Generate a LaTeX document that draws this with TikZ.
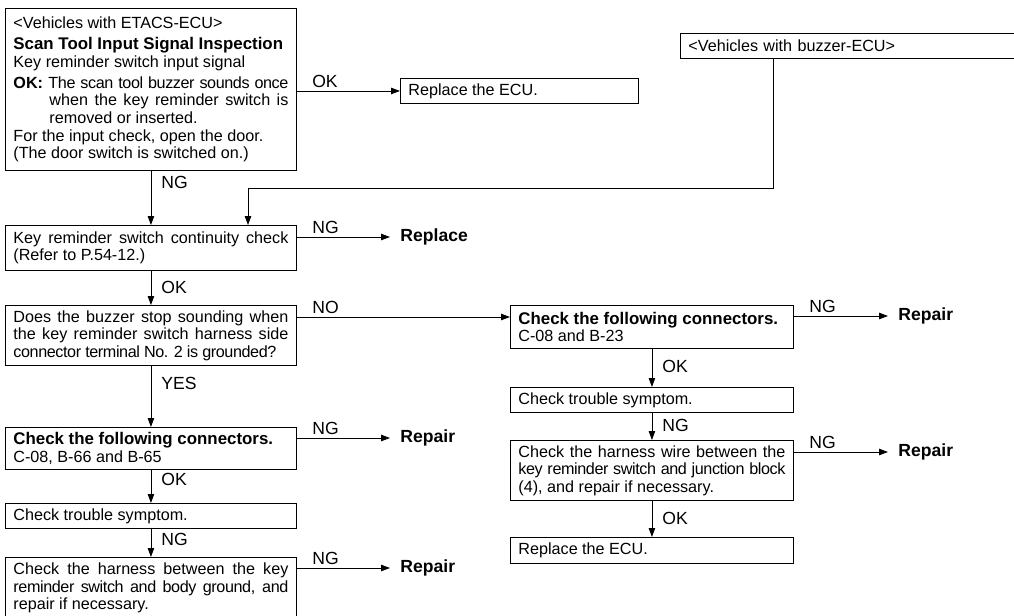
\documentclass[tikz,border=0pt]{standalone}
\usepackage{fontspec}
\setmainfont{Liberation Sans}
\usepackage{tikz}
\usetikzlibrary{arrows.meta}
\newcommand\tightline[1]{{\addfontfeatures{LetterSpace=-2.5}#1}}
\newcommand\headline[1]{\textbf{\fontsize{9.6}{10}\selectfont #1}}

\begin{document}
\begin{tikzpicture}[>={Triangle[length=5pt,width=3.6pt]},line width=0.5pt,
  box/.style={draw,rectangle,anchor=north west,align=justify,text width=5.50cm,
    inner xsep=0.16cm,inner ysep=0.1cm,font=\fontsize{9.2}{10}\selectfont},
  rbox/.style={box,text width=5.34cm},
  lbl/.style={inner sep=0,font=\fontsize{10}{11}\selectfont},
  hl/.style={lbl,pos=0,anchor=south west,xshift=0.3cm,yshift=0.05cm},
  vl/.style={lbl,anchor=west,xshift=0.2cm},
  res/.style={anchor=west,inner xsep=0.2cm,font=\bfseries\fontsize{10}{11}\selectfont}]
\useasboundingbox (0,0) rectangle (20.28,-12.32);

\node[box,minimum height=3.24cm] (etacs) at (0.10,-0.16) {<Vehicles with ETACS-ECU>\par\vspace{2pt}
  \headline{Scan Tool Input Signal Inspection}\par
  Key reminder switch input signal\par\vspace{2pt}
  \hangindent=0.72cm\hangafter=1\textbf{OK:} \tightline{The scan tool buzzer sounds once}\linebreak
  when the key reminder switch is\linebreak removed or inserted.\par
  For the input check, open the door.\par
  (The door switch is switched on.)};
\node[box,text width=4.44cm,minimum height=0.48cm] (ecuA) at (8.00,-1.56) {Replace the ECU.};
\node[box,align=left,text width=6.40cm,minimum height=0.50cm] (buzzer) at (13.60,-0.66) {<Vehicles with buzzer-ECU>};

\node[box,minimum height=0.90cm] (contin) at (0.10,-4.50) {Key reminder switch continuity check\linebreak (Refer to P.54-12.)};
\node[box,minimum height=1.20cm] (ground) at (0.10,-6.10) {Does the buzzer stop sounding when\linebreak
  the key reminder switch harness side\linebreak \tightline{connector terminal No. 2 is grounded?}};
\node[box,minimum height=0.82cm] (connA) at (0.10,-8.54) {\headline{Check the following connectors.}\par C-08, B-66 and B-65};
\node[box,minimum height=0.44cm] (sympA) at (0.10,-10.06) {Check trouble symptom.};
\node[box,minimum height=1.22cm] (harnA) at (0.10,-11.14) {Check the harness between the key\linebreak
  \tightline{reminder switch and body ground, and}\linebreak repair if necessary.};

\node[rbox,minimum height=0.86cm] (connB) at (10.20,-6.10) {\headline{Check the following connectors.}\par C-08 and B-23};
\node[rbox,minimum height=0.44cm] (sympB) at (10.20,-7.74) {Check trouble symptom.};
\node[rbox,minimum height=1.20cm] (wireB) at (10.20,-8.80) {Check the harness wire between the\linebreak
  \tightline{key reminder switch and junction block}\linebreak (4), and repair if necessary.};
\node[rbox,minimum height=0.52cm] (ecuB) at (10.20,-10.74) {Replace the ECU.};

\node[res] (replace) at (7.80,-4.74) {Replace};
\node[res] (repairA) at (7.80,-8.76) {Repair};
\node[res] (repairB) at (7.80,-11.36) {Repair};
\node[res] (repairC) at (17.76,-6.32) {Repair};
\node[res] (repairD) at (17.76,-9.04) {Repair};

\coordinate (turnA) at (15.46,-3.76);
\coordinate (turnB) at (4.96,-3.76);

\draw[->] (etacs.east |- ecuA.west) -- node[hl]{OK} (ecuA.west);
\draw[->] (etacs.south) -- node[vl,pos=0.22]{NG} (contin.north);
\draw[->] (buzzer.south -| turnA) -- (turnA) -- (turnB) -- (contin.north -| turnB);
\draw[->] (contin.east |- replace.west) -- node[hl]{NG} (replace.west);
\draw[->] (contin.south) -- node[vl,pos=0.49]{OK} (ground.north);
\draw[->] (ground.east |- connB.north west) ++(0,-0.24) -- node[hl]{NO} ([yshift=-0.24cm]connB.north west);
\draw[->] (ground.south) -- node[vl,pos=0.28]{YES} (connA.north);
\draw[->] (connA.east |- repairA.west) -- node[hl]{NG} (repairA.west);
\draw[->] (connA.south) -- node[vl,pos=0.29]{OK} (sympA.north);
\draw[->] (sympA.south) -- node[vl,pos=0.37]{NG} (harnA.north);
\draw[->] (harnA.east |- repairB.west) -- node[hl]{NG} (repairB.west);

\draw[->] (connB.east |- repairC.west) -- node[hl]{NG} (repairC.west);
\draw[->] (connB.south) -- node[vl,pos=0.45]{OK} (sympB.north);
\draw[->] (sympB.south) -- node[vl,pos=0.45]{NG} (wireB.north);
\draw[->] (wireB.east |- repairD.west) -- node[hl]{NG} (repairD.west);
\draw[->] (wireB.south) -- node[vl,pos=0.49]{OK} (ecuB.north);
\end{tikzpicture}
\end{document}
